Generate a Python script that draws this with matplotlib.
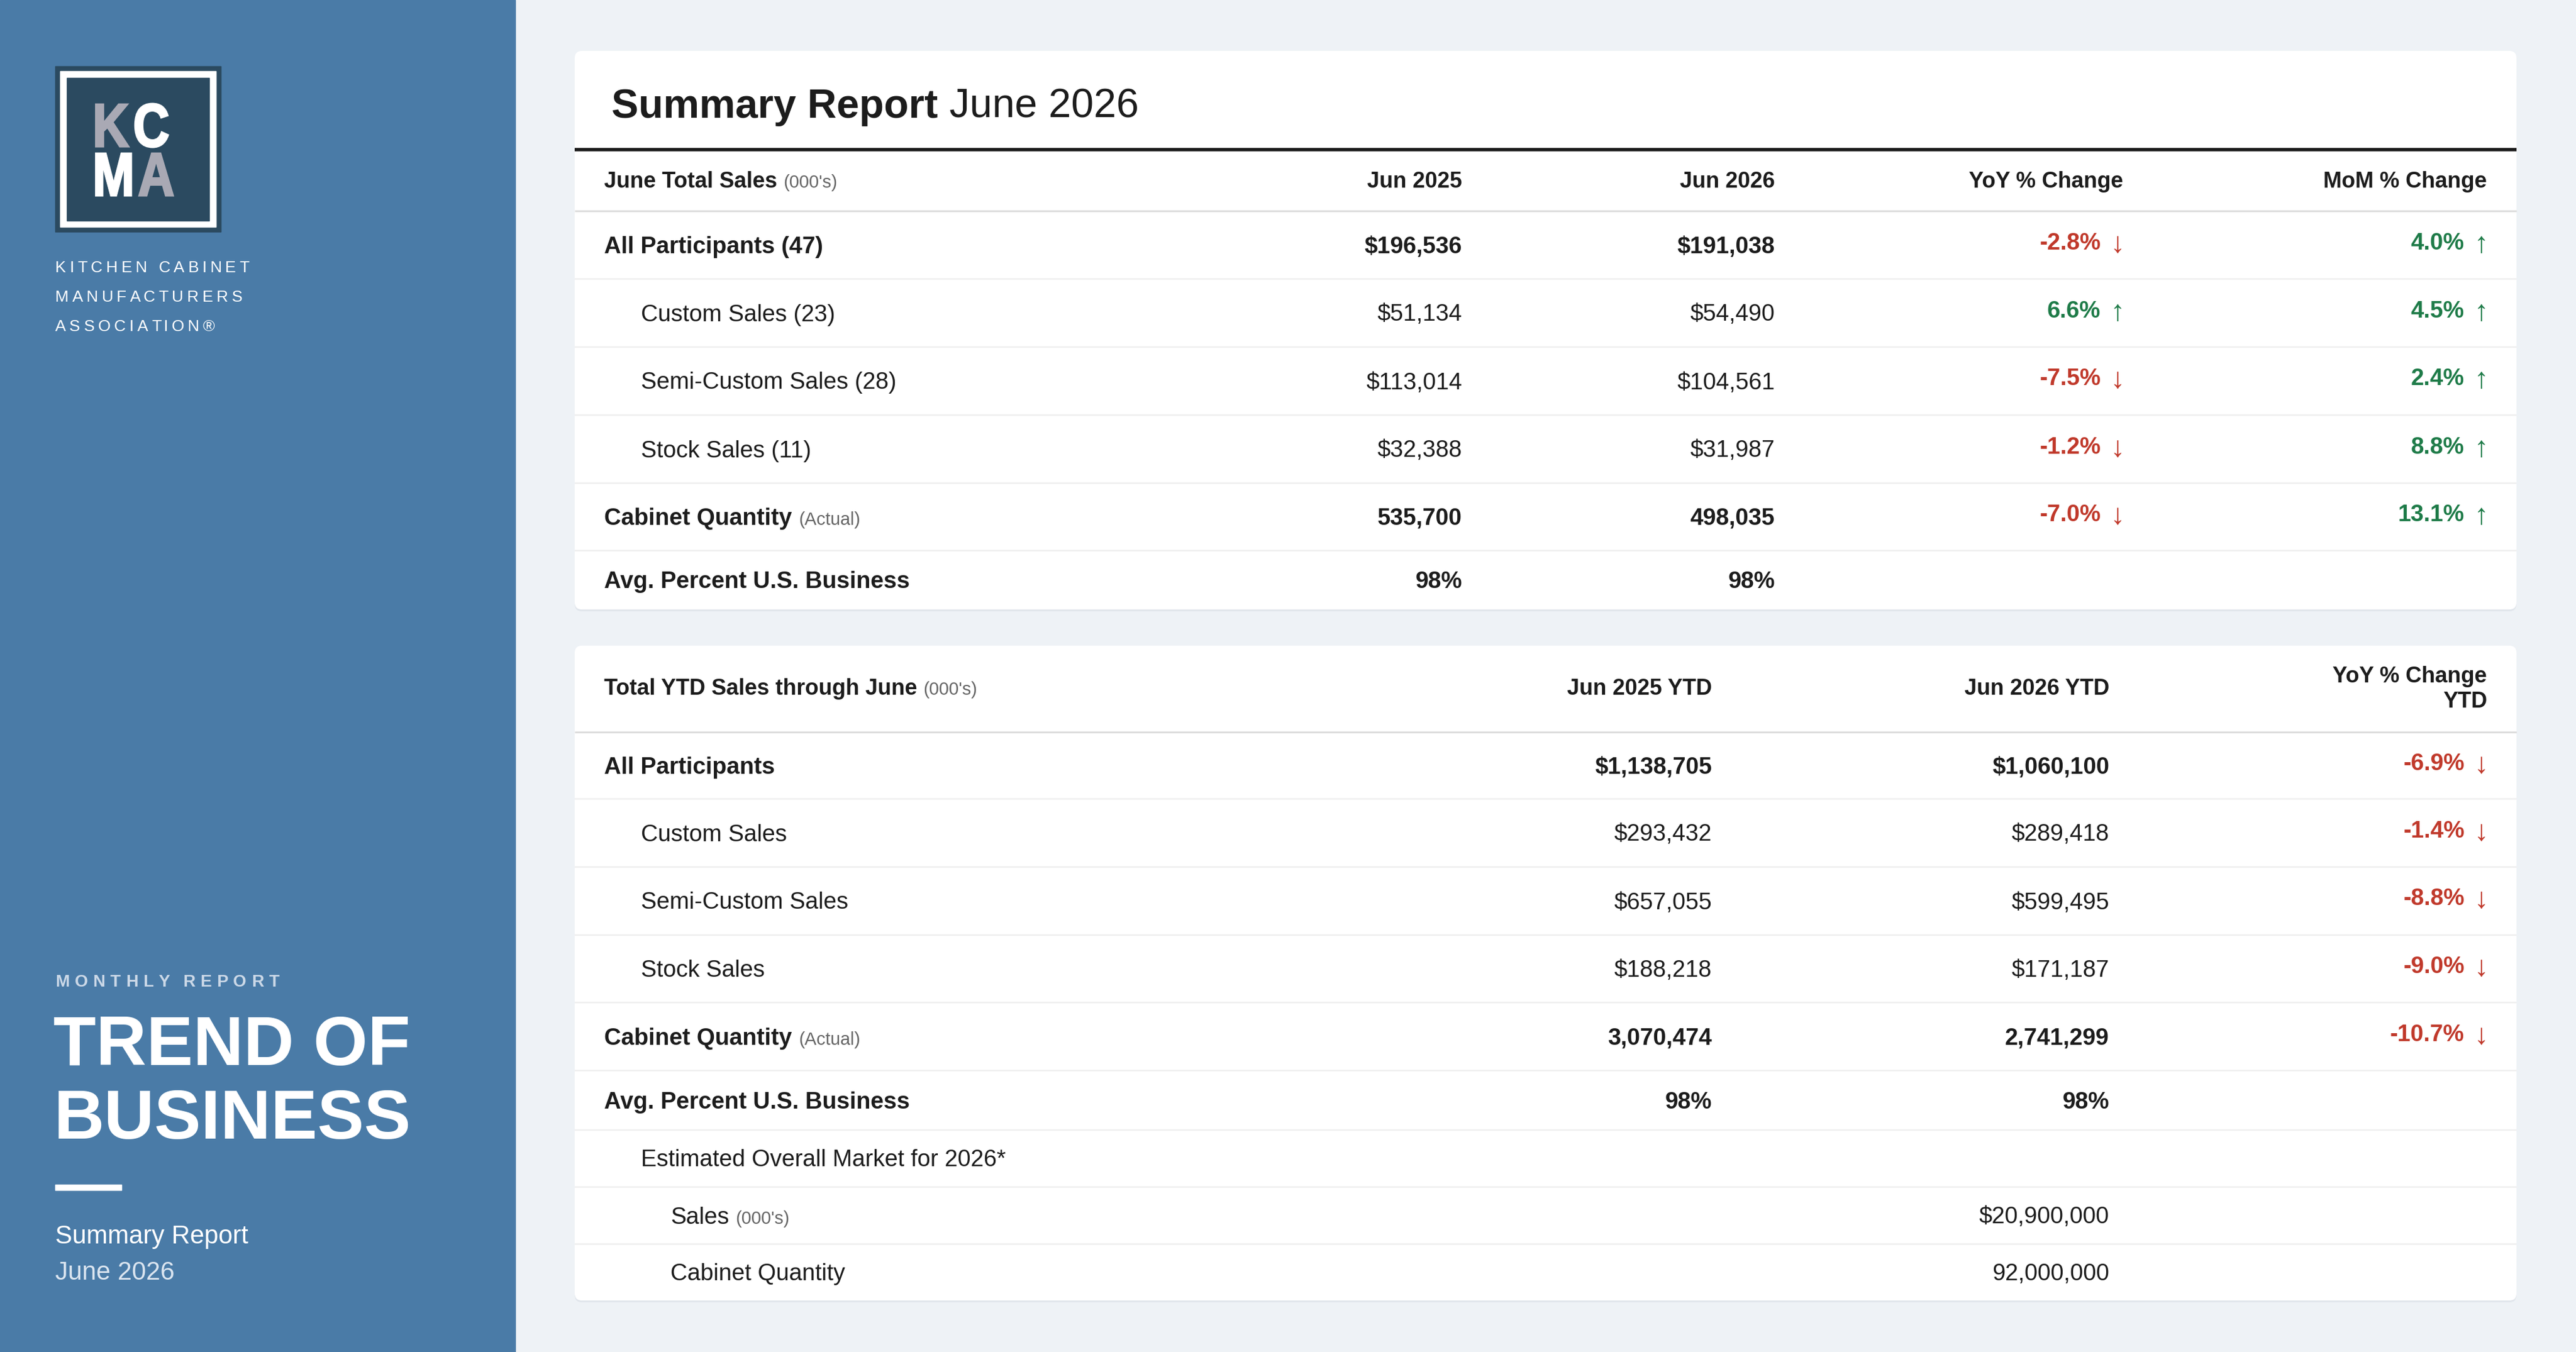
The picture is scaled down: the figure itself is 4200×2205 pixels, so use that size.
import matplotlib
matplotlib.use('Agg')
import matplotlib.pyplot as plt
from matplotlib.patches import Rectangle, FancyBboxPatch, PathPatch
from matplotlib.font_manager import FontProperties
from matplotlib.textpath import TextPath
from matplotlib.transforms import Affine2D

FONT = 'Liberation Sans'
INK = '#1c1c1c'
GREY = '#666666'
RED = '#c0392b'
GREEN = '#1e7b48'

# ---- data: June (monthly) table
june_labels = ['All Participants (47)', 'Custom Sales (23)', 'Semi-Custom Sales (28)',
               'Stock Sales (11)', 'Cabinet Quantity', 'Avg. Percent U.S. Business']
june_2025 = [196536, 51134, 113014, 32388, 535700, 98]
june_2026 = [191038, 54490, 104561, 31987, 498035, 98]
june_yoy = [-2.8, 6.6, -7.5, -1.2, -7.0, None]
june_mom = [4.0, 4.5, 2.4, 8.8, 13.1, None]
june_kind = ['total', 'sub', 'sub', 'sub', 'qty', 'pct']

# ---- data: YTD table
ytd_labels = ['All Participants', 'Custom Sales', 'Semi-Custom Sales', 'Stock Sales',
              'Cabinet Quantity', 'Avg. Percent U.S. Business',
              'Estimated Overall Market for 2026*', 'Sales', 'Cabinet Quantity']
ytd_2025 = [1138705, 293432, 657055, 188218, 3070474, 98, None, None, None]
ytd_2026 = [1060100, 289418, 599495, 171187, 2741299, 98, None, 20900000, 92000000]
ytd_yoy = [-6.9, -1.4, -8.8, -9.0, -10.7, None, None, None, None]
ytd_kind = ['total', 'sub', 'sub', 'sub', 'qty', 'pct', 'note', 'est$', 'estq']

fig = plt.figure(figsize=(42, 22.05), dpi=100)
fig.patch.set_facecolor('#eef2f6')
ax = fig.add_axes([0, 0, 1, 1])
ax.set_xlim(0, 4200)
ax.set_ylim(2205, 0)
ax.axis('off')
r = fig.canvas.get_renderer()


def tw(s, size, weight='normal', family=FONT):
    prop = FontProperties(family=family, weight=weight, size=size)
    a = r.get_text_width_height_descent(s + '|', prop, ismath=False)[0]
    b = r.get_text_width_height_descent('|', prop, ismath=False)[0]
    return a - b


def spaced(x, y, s, spacing, size, weight='normal', color='white'):
    for i, ch in enumerate(s):
        off = tw(s[:i], size, weight) if i else 0
        ax.text(x + off + i * spacing, y, ch, fontsize=size, fontweight=weight,
                color=color, family=FONT, va='baseline', ha='left')


def hline(y, x0, x1, px, color):
    ax.plot([x0, x1], [y, y], color=color, lw=px * 0.72, solid_capstyle='butt')


# ---- sidebar
ax.add_patch(Rectangle((0, 0), 840, 2205, color='#4a7ba7', zorder=0))
ax.add_patch(Rectangle((90, 108), 270, 270, color='#2b4a60'))
ax.add_patch(Rectangle((98, 116), 254, 254, color='white'))
ax.add_patch(Rectangle((109, 127), 232, 233, color='#2b4a60'))
# condensed logo letters: bold glyphs squeezed horizontally
logo_prop = FontProperties(family=FONT, weight='bold')
for ch, x, y, c in [('K', 151, 239, '#a9a9b4'), ('C', 217, 239, 'white'),
                    ('M', 151, 319, 'white'), ('A', 225, 319, '#a9a9b4')]:
    tp = TextPath((0, 0), ch, size=100, prop=logo_prop)
    path = Affine2D().scale(0.82, -1).translate(x, y).transform_path(tp)
    ax.add_patch(PathPatch(path, fc=c, ec=c, lw=2.2, zorder=3))

for i, line in enumerate(['KITCHEN CABINET', 'MANUFACTURERS', 'ASSOCIATION®']):
    spaced(90, 444 + i * 48, line, 5.7, 19, color='white')

spaced(90, 1609, 'MONTHLY REPORT', 8.3, 20, weight='bold', color='#cbd8e7')
ax.text(87, 1737, 'TREND OF', fontsize=82, fontweight='bold', color='white',
        family=FONT, va='baseline')
ax.text(87, 1857, 'BUSINESS', fontsize=82, fontweight='bold', color='white',
        family=FONT, va='baseline')
ax.add_patch(Rectangle((90, 1932), 108, 9, color='white'))
ax.text(90, 2028, 'Summary Report', fontsize=30, color='white', family=FONT, va='baseline')
ax.text(90, 2087, 'June 2026', fontsize=30, color='#dbe5f0', family=FONT, va='baseline')

# ---- cards
CX0, CX1 = 937, 4103


def card(y0, y1):
    ax.add_patch(FancyBboxPatch((CX0, y0 + 3), CX1 - CX0, y1 - y0,
                                boxstyle='round,pad=0,rounding_size=12',
                                fc='#e1e6ec', ec='none', zorder=1))
    ax.add_patch(FancyBboxPatch((CX0, y0), CX1 - CX0, y1 - y0,
                                boxstyle='round,pad=0,rounding_size=12',
                                fc='white', ec='none', zorder=1))


card(83, 994)
card(1053, 2121)

ax.text(997, 192, 'Summary Report', fontsize=47.5, fontweight='bold', color=INK,
        family=FONT, va='baseline')
ax.text(997 + tw('Summary Report ', 47.5, 'bold'), 192, 'June 2026', fontsize=47.5,
        color=INK, family=FONT, va='baseline')
hline(243.5, CX0, CX1, 5.5, '#1a1a1a')

HS, RS, SS = 26, 27.5, 21


def label_with_note(x, y, main, note, size, weight):
    ax.text(x, y, main, fontsize=size, fontweight=weight, color=INK, family=FONT,
            va='baseline', zorder=3)
    ax.text(x + tw(main + ' ', size, weight), y, note, fontsize=SS, color=GREY,
            family=FONT, va='baseline', zorder=3)


def cell(x, y, s, bold):
    ax.text(x, y, s, fontsize=RS, fontweight='bold' if bold else 'normal', color=INK,
            family=FONT, ha='right', va='baseline', zorder=3)


def pct_cell(x, y, v):
    col = GREEN if v >= 0 else RED
    arrow = '↑' if v >= 0 else '↓'
    ax.text(x - 37, y - 6, f'{v:.1f}%', fontsize=RS, fontweight='bold', color=col,
            family=FONT, ha='right', va='baseline', zorder=3)
    ax.text(x + 2, y - 1, arrow, fontsize=34, color=col, family=FONT, ha='right',
            va='baseline', zorder=3)


def fmt(v, kind):
    if v is None:
        return ''
    if kind in ('qty', 'estq'):
        return f'{v:,}'
    if kind == 'pct':
        return f'{v}%'
    return f'${v:,}'


# ---- table 1 (June)
label_with_note(985, 306, 'June Total Sales', "(000's)", HS, 'bold')
t1_cols = [2384, 2894, 3462, 4055]
for x, h in zip(t1_cols, ['Jun 2025', 'Jun 2026', 'YoY % Change', 'MoM % Change']):
    ax.text(x, 306, h, fontsize=HS, fontweight='bold', color=INK, family=FONT,
            ha='right', va='baseline', zorder=3)
hline(343.5, CX0, CX1, 3, '#dddddd')
t1_edges = [345, 455, 566, 677, 788, 898, 994]
for i in range(len(june_labels)):
    top, bot = t1_edges[i], t1_edges[i + 1]
    y = (top + bot) / 2 + 13
    if i > 0:
        hline(top, CX0, CX1, 2.5, '#efefef')
    kind = june_kind[i]
    bold = kind != 'sub'
    x = 1045 if kind == 'sub' else 985
    if kind == 'qty':
        label_with_note(x, y, june_labels[i], '(Actual)', RS, 'bold')
    else:
        ax.text(x, y, june_labels[i], fontsize=RS, fontweight='bold' if bold else 'normal',
                color=INK, family=FONT, va='baseline', zorder=3)
    cell(t1_cols[0], y, fmt(june_2025[i], kind), bold)
    cell(t1_cols[1], y, fmt(june_2026[i], kind), bold)
    if june_yoy[i] is not None:
        pct_cell(t1_cols[2], y, june_yoy[i])
    if june_mom[i] is not None:
        pct_cell(t1_cols[3], y, june_mom[i])

# ---- table 2 (YTD)
label_with_note(985, 1133, 'Total YTD Sales through June', "(000's)", HS, 'bold')
t2_cols = [2791, 3439, 4055]
for x, h in zip(t2_cols[:2], ['Jun 2025 YTD', 'Jun 2026 YTD']):
    ax.text(x, 1133, h, fontsize=HS, fontweight='bold', color=INK, family=FONT,
            ha='right', va='baseline', zorder=3)
ax.text(t2_cols[2], 1113, 'YoY % Change', fontsize=HS, fontweight='bold', color=INK,
        family=FONT, ha='right', va='baseline', zorder=3)
ax.text(t2_cols[2], 1154, 'YTD', fontsize=HS, fontweight='bold', color=INK,
        family=FONT, ha='right', va='baseline', zorder=3)
hline(1193.5, CX0, CX1, 3, '#dddddd')
t2_edges = [1195, 1303, 1414, 1525, 1635, 1746, 1843, 1936, 2029, 2121]
for i in range(len(ytd_labels)):
    top, bot = t2_edges[i], t2_edges[i + 1]
    y = (top + bot) / 2 + 13
    if i > 0:
        hline(top, CX0, CX1, 2.5, '#efefef')
    kind = ytd_kind[i]
    bold = kind in ('total', 'qty', 'pct')
    x = {'sub': 1045, 'note': 1045, 'est$': 1093, 'estq': 1093}.get(kind, 985)
    if kind == 'qty':
        label_with_note(x, y, ytd_labels[i], '(Actual)', RS, 'bold')
    elif kind == 'est$':
        label_with_note(x, y, ytd_labels[i], "(000's)", RS, 'normal')
    else:
        ax.text(x, y, ytd_labels[i], fontsize=RS, fontweight='bold' if bold else 'normal',
                color=INK, family=FONT, va='baseline', zorder=3)
    cell(t2_cols[0], y, fmt(ytd_2025[i], kind), bold)
    cell(t2_cols[1], y, fmt(ytd_2026[i], kind), bold)
    if ytd_yoy[i] is not None:
        pct_cell(t2_cols[2], y, ytd_yoy[i])

fig.savefig('out.png', dpi=100, facecolor=fig.get_facecolor())
